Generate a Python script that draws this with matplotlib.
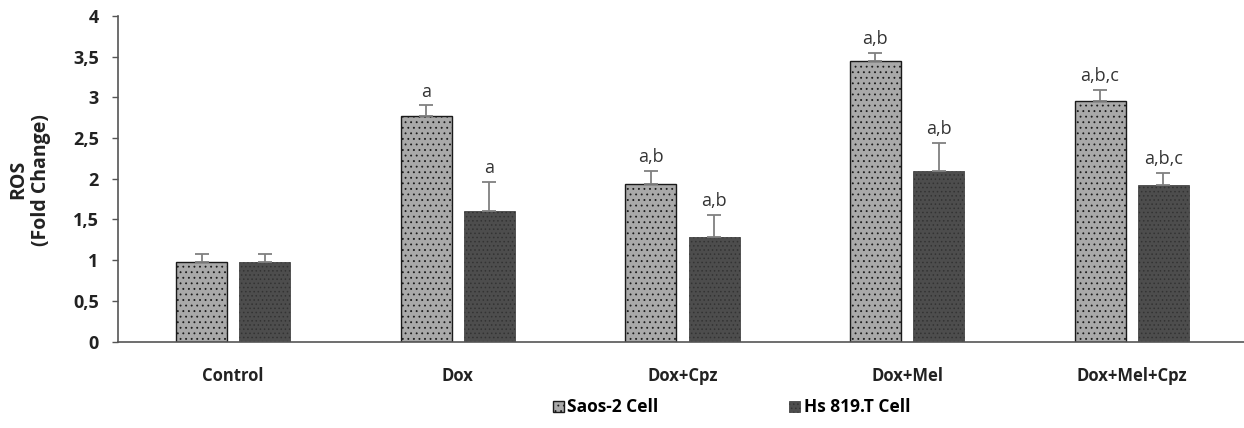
import numpy as np
import matplotlib.pyplot as plt

plt.rcParams['font.family'] = ['Open Sans', 'DejaVu Sans']
plt.rcParams['hatch.linewidth'] = 0.6

# data
categories = ['Control', 'Dox', 'Dox+Cpz', 'Dox+Mel', 'Dox+Mel+Cpz']
saos = [0.98, 2.77, 1.94, 3.45, 2.95]
saos_err = [0.10, 0.13, 0.16, 0.09, 0.14]
hs = [0.98, 1.60, 1.29, 2.09, 1.92]
hs_err = [0.10, 0.36, 0.27, 0.35, 0.15]
saos_lbl = ['', 'a', 'a,b', 'a,b', 'a,b,c']
hs_lbl = ['', 'a', 'a,b', 'a,b', 'a,b,c']
yticks = [0, 0.5, 1, 1.5, 2, 2.5, 3, 3.5, 4]
ytick_labels = ['0', '0,5', '1', '1,5', '2', '2,5', '3', '3,5', '4']

fig = plt.figure(figsize=(12.44, 4.28), dpi=100)
ax = fig.add_axes([0.095, 0.2016, 0.905, 0.7615])

x = np.arange(len(categories))
w = 0.227
off = 0.141

plt.rcParams['hatch.color'] = '#111111'
b1 = ax.bar(x - off, saos, w, color='#a9a9a9', edgecolor='#1a1a1a', linewidth=1.0,
            hatch='...', label='Saos-2 Cell', zorder=2)
b2 = ax.bar(x + off, hs, w, color='#4d4d4d', edgecolor='#333333', linewidth=0.5,
            hatch='....', label='Hs 819.T Cell', zorder=2)

ax.errorbar(x - off, saos, yerr=[np.zeros(5), saos_err], fmt='none', ecolor='#808080',
            elinewidth=1.3, capsize=5, capthick=1.3, zorder=3)
ax.errorbar(x + off, hs, yerr=[np.zeros(5), hs_err], fmt='none', ecolor='#808080',
            elinewidth=1.3, capsize=5, capthick=1.3, zorder=3)

for i in range(len(categories)):
    if saos_lbl[i]:
        ax.text(x[i] - off, saos[i] + saos_err[i] + 0.06, saos_lbl[i], ha='center',
                va='bottom', fontsize=13, color='#333333')
    if hs_lbl[i]:
        ax.text(x[i] + off, hs[i] + hs_err[i] + 0.06, hs_lbl[i], ha='center',
                va='bottom', fontsize=13, color='#333333')

ax.set_xlim(-0.512, 4.5)
ax.set_ylim(0, 4)
ax.set_yticks(yticks)
ax.set_yticklabels(ytick_labels, fontsize=13, fontweight='bold', color='#222222')
ax.set_xticks(x)
ax.set_xticklabels(categories, fontsize=12, fontweight='bold', color='#222222')
ax.tick_params(axis='x', length=0, pad=18)
ax.tick_params(axis='y', length=4, width=1, color='#555555', pad=10, direction='out')
for s in ['top', 'right']:
    ax.spines[s].set_visible(False)
for s in ['left', 'bottom']:
    ax.spines[s].set_color('#555555')
    ax.spines[s].set_linewidth(1.2)

fig.text(0.024, 0.58, 'ROS\n(Fold Change)', rotation=90, ha='center', va='center',
         fontsize=14, fontweight='bold', color='#222222', linespacing=1.15)

leg = fig.legend(handles=[b1, b2], loc='center', bbox_to_anchor=(0.588, 0.048), ncol=2,
                 frameon=False, fontsize=12.5, handlelength=0.65, handleheight=0.65,
                 handletextpad=0.2, columnspacing=7.5)
for t in leg.get_texts():
    t.set_fontweight('bold')

fig.savefig('out.png', dpi=100)
